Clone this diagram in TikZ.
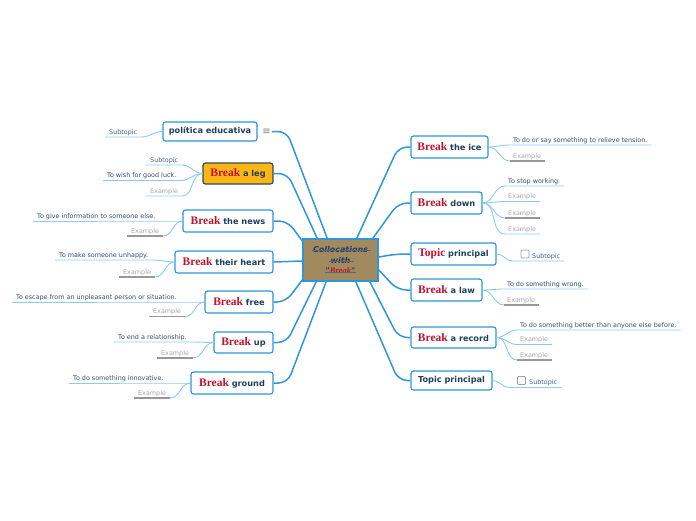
\documentclass[tikz,border=0pt]{standalone}
\usepackage{fontspec}
\usetikzlibrary{calc}
\newfontfamily\dv{DejaVu Sans}
\newfontfamily\ser{Liberation Serif}
\definecolor{tblue}{HTML}{2E96DC}
\definecolor{lblue}{HTML}{8CCBF0}
\definecolor{tdark}{HTML}{1E3F5E}
\definecolor{bred}{HTML}{C0122F}
\definecolor{ctxt}{HTML}{34506B}
\definecolor{stxt}{HTML}{46627E}
\definecolor{exgrey}{HTML}{A6A6A6}
\definecolor{ulgrey}{HTML}{979797}
\definecolor{boxtan}{HTML}{A38A5E}
\definecolor{gold}{HTML}{FDB714}
\definecolor{legb}{HTML}{2F4A5E}
\definecolor{cbox}{HTML}{9AA4AE}
\definecolor{strk}{HTML}{56697B}
\newcommand\brk{{\ser\bfseries\fontsize{11.5}{12}\selectfont\color{bred}Break}}
\newcommand\tpc{{\ser\bfseries\fontsize{11.5}{12}\selectfont\color{bred}Topic}}
% left children
\newcommand\Ldef[5]{%
 \node[ctext] (#1) at (#3,#4) {#5};
 \draw[sub] ($(#1.west)+(-4,4.5)$) -- ($(#1.east)+(4,4.5)$) to[out=0,in=180] (#2.west);}
\newcommand\Lsub[4]{%
 \node[ctext,text=stxt] (#1) at (#3,#4) {Subtopic};
 \draw[sub] ($(#1.west)+(-4,4.5)$) -- ($(#1.east)+(4,4.5)$) to[out=0,in=180] (#2.west);}
\newcommand\Lexb[4]{%
 \node[extext] (#1) at (#3,#4) {Example};
 \draw[sub] ($(#1.west)+(-4,4.5)$) -- ($(#1.east)+(4,4.5)$) to[out=0,in=180] (#2.west);}
\newcommand\Lex[4]{%
 \node[extext] (#1) at (#3,#4) {Example};
 \draw[gline] ($(#1.west)+(-4,4.5)$) -- ($(#1.east)+(4,4.5)$);
 \draw[sub] ($(#1.east)+(4,4.5)$) to[out=0,in=180] (#2.west);}
% right children
\newcommand\Rdef[5]{%
 \node[ctext] (#1) at (#3,#4) {#5};
 \draw[sub] (#2.east) to[out=0,in=180] ($(#1.west)+(-3,4.5)$) -- ($(#1.east)+(4,4.5)$);}
\newcommand\Rexb[4]{%
 \node[extext] (#1) at (#3,#4) {Example};
 \draw[sub] (#2.east) to[out=0,in=180] ($(#1.west)+(-3,4.5)$) -- ($(#1.east)+(4,4.5)$);}
\newcommand\Rex[4]{%
 \node[extext] (#1) at (#3,#4) {Example};
 \draw[sub] (#2.east) to[out=0,in=180] ($(#1.west)+(-3,4.5)$);
 \draw[gline] ($(#1.west)+(-3,4.5)$) -- ($(#1.east)+(4,4.5)$);}
\newcommand\Rchk[5]{% name parent boxx y textx
 \node[chk] (#1b) at (#3,#4) {};
 \node[ctext,text=stxt] (#1) at (#5,#4) {Subtopic};
 \draw[sub] (#2.east) to[out=0,in=180] ($(#1b.west)+(-8,7)$) -- ($(#1b.west -| #1.east)+(4,7)$);}
\begin{document}
\begin{tikzpicture}[x=1pt,y=-1pt,
 topic/.style={draw=tblue, line width=1.2pt, rounded corners=2.5pt, fill=white, inner sep=0pt,
   font=\dv\bfseries\fontsize{8.2}{10}\selectfont, text=tdark},
 main/.style={draw=tblue, line width=1.5pt, rounded corners=9pt},
 sub/.style={draw=lblue, line width=0.9pt},
 gline/.style={draw=ulgrey, line width=1.1pt},
 ctext/.style={inner sep=0pt, anchor=west, yshift=-2.5pt, text height=5pt, text depth=1.5pt,
   font=\dv\fontsize{6.4}{7}\selectfont, text=ctxt},
 extext/.style={ctext, text=exgrey},
 chk/.style={draw=cbox, line width=0.8pt, rounded corners=1pt, minimum size=8pt, inner sep=0pt, fill=white},
 ctr/.style={inner sep=0pt, text height=6pt, text depth=1.5pt, font=\dv\bfseries\itshape\fontsize{8}{10}\selectfont, text=tdark},
 strike/.style={draw=strk, line width=0.7pt},
]
\useasboundingbox (0,0) rectangle (696,520);

% center
\node[draw=tblue, line width=1.8pt, fill=boxtan, minimum width=75pt, minimum height=42pt, inner sep=0pt] (c) at (340.5,260) {};
\node[ctr] (c1) at (340.5,250) {Collocations};
\node[ctr] (c2) at (340.5,261) {with};
\node[ctr] (c3) at (340.5,271.5) {"{\ser\bfseries\itshape\fontsize{8.5}{10}\selectfont\color{bred}Break}"};
\draw[strike] ($(c1.west)+(-1,0.5)$) -- ($(c1.east)+(3,0.5)$);
\draw[strike] ($(c2.west)+(-1,0.5)$) -- ($(c2.east)+(3,0.5)$);
\draw[strike] ($(c3.west)+(-1,0.5)$) -- ($(c3.east)+(1,0.5)$);

% left topics
\node[topic, minimum width=94pt, minimum height=19pt] (pol) at (210,131.5) {política educativa};
\node[inner sep=0pt, text=cbox!80!black, font=\dv\fontsize{10}{10}\selectfont] (pi) at (266.5,131.5) {≡};
\node[topic, fill=gold, draw=legb, minimum width=70pt, minimum height=21pt] (leg) at (238,173.5) {\brk{} a leg};
\node[topic, minimum width=90pt, minimum height=22pt] (news) at (228,221) {\brk{} the news};
\node[topic, minimum width=98pt, minimum height=22pt] (heart) at (224,262) {\brk{} their heart};
\node[topic, minimum width=68pt, minimum height=22pt] (free) at (239,302) {\brk{} free};
\node[topic, minimum width=59pt, minimum height=21pt] (up) at (243.5,342.5) {\brk{} up};
\node[topic, minimum width=82pt, minimum height=22pt] (ground) at (232,383) {\brk{} ground};

% right topics
\node[topic, minimum width=77pt, minimum height=22pt] (ice) at (449.5,147) {\brk{} the ice};
\node[topic, minimum width=71pt, minimum height=22pt] (down) at (446.5,203) {\brk{} down};
\node[topic, minimum width=85pt, minimum height=22pt] (tp) at (453.5,254) {\tpc{} principal};
\node[topic, minimum width=71pt, minimum height=22pt] (law) at (446.5,290) {\brk{} a law};
\node[topic, minimum width=85pt, minimum height=21pt] (rec) at (453.5,337.5) {\brk{} a record};
\node[topic, minimum width=81pt, minimum height=19pt] (tp2) at (451.5,380.5) {Topic principal};

% main connectors
\draw[main] ($(c.north west)+(25,0)$) -- ($(pi.east)+(16,0)$) -- ($(pi.east)+(1,0)$);
\draw[main] ($(c.north west)+(15,0)$) -- ($(leg.east)+(14,0)$) -- (leg.east);
\draw[main] ($(c.north west)+(1,4)$) -- ($(news.east)+(14,0)$) -- (news.east);
\draw[main] ($(c.west)+(0,1)$) -- (heart.east);
\draw[main] ($(c.south west)+(1,-3)$) -- ($(free.east)+(12,0)$) -- (free.east);
\draw[main] ($(c.south west)+(14,0)$) -- ($(up.east)+(13,0)$) -- (up.east);
\draw[main] ($(c.south west)+(24,0)$) -- ($(ground.east)+(14,0)$) -- (ground.east);
\draw[main] ($(c.north east)+(-22,0)$) -- ($(ice.west)+(-12,0)$) -- (ice.west);
\draw[main] ($(c.north east)+(-6,0)$) -- ($(down.west)+(-12,0)$) -- (down.west);
\draw[main] ($(c.east)+(0,-3)$) -- ($(tp.west)+(-14,0)$) -- (tp.west);
\draw[main] ($(c.east)+(0,10)$) -- ($(law.west)+(-13,0)$) -- (law.west);
\draw[main] ($(c.south east)+(-9,0)$) -- ($(rec.west)+(-12,0)$) -- (rec.west);
\draw[main] ($(c.south east)+(-23,0)$) -- ($(tp2.west)+(-12,0)$) -- (tp2.west);

% left children
\Lsub{polsub}{pol}{109}{130}
\Lsub{legsub}{leg}{150}{158}
\Ldef{legdef}{leg}{107}{173.5}{To wish for good luck.}
\Lexb{legex}{leg}{150}{189}
\Ldef{newsdef}{news}{37}{214}{To give information to someone else.}
\Lex{newsex}{news}{131}{229}
\Ldef{heartdef}{heart}{59}{253}{To make someone unhappy.}
\Lex{heartex}{heart}{123}{270}
\Ldef{freedef}{free}{16}{295}{To escape from an unpleasant person or situation.}
\Lex{freeex}{free}{153}{309.5}
\Ldef{updef}{up}{118}{335}{To end a relationship.}
\Lex{upex}{up}{161}{351}
\Ldef{grdef}{ground}{73}{376}{To do something innovative.}
\Lex{grex}{ground}{138}{391}

% right children
\Rdef{icedef}{ice}{513}{138}{To do or say something to relieve tension.}
\Rex{iceex}{ice}{513}{154}
\Rdef{downdef}{down}{508}{179}{To stop working.}
\Rexb{downexa}{down}{508}{194.5}
\Rex{downexb}{down}{508}{211}
\Rexb{downexc}{down}{508}{227}
\Rchk{tpsub}{tp}{525}{254}{532}
\Rdef{lawdef}{law}{507}{282}{To do something wrong.}
\Rex{lawex}{law}{507}{298}
\Rdef{recdef}{rec}{520}{323}{To do something better than anyone else before.}
\Rexb{recexa}{rec}{520}{337.5}
\Rex{recexb}{rec}{520}{353}
\Rchk{tpsubb}{tp2}{521.5}{380.5}{529}
\end{tikzpicture}
\end{document}
